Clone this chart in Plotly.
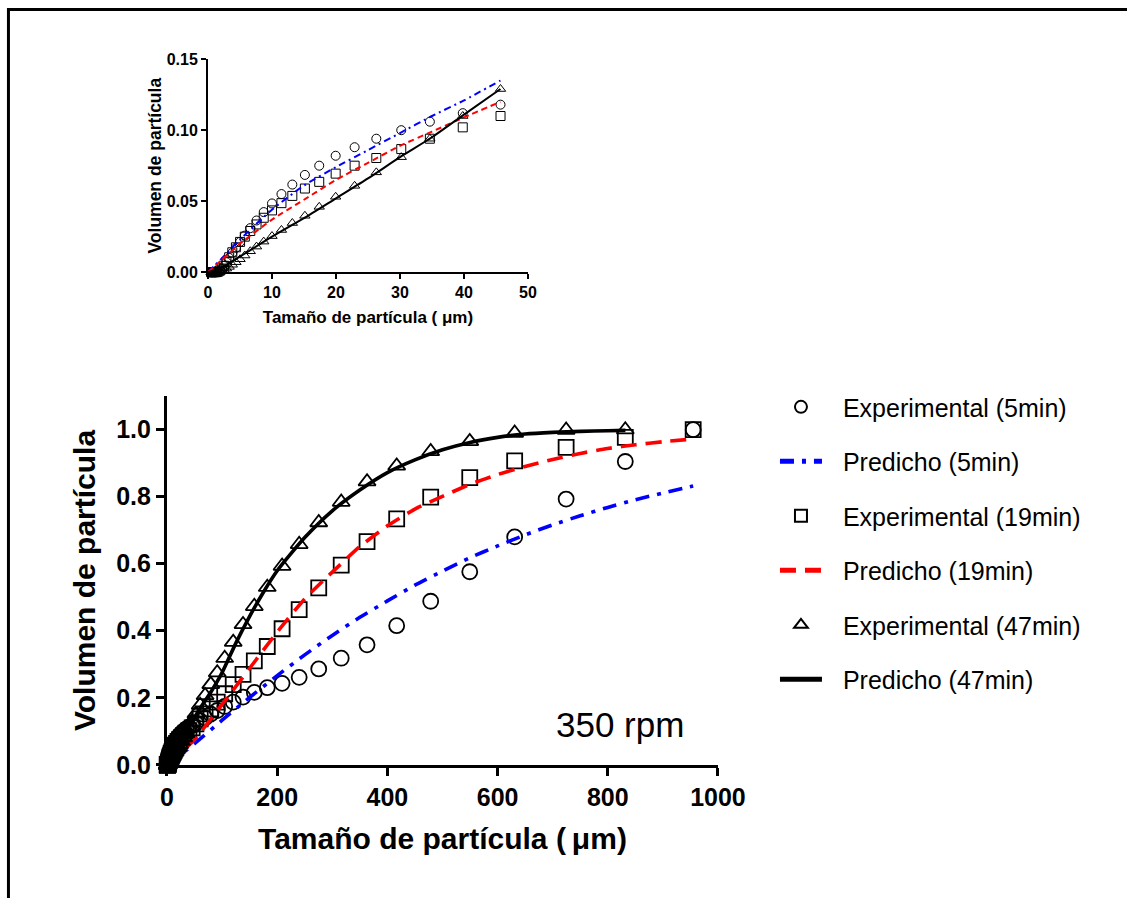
import plotly.graph_objects as go

# ---------------- data ----------------
sizes = [0.479, 0.550, 0.631, 0.724, 0.832, 0.955, 1.096, 1.259, 1.445, 1.660,
         1.905, 2.188, 2.512, 2.884, 3.311, 3.802, 4.365, 5.012, 5.754, 6.607,
         7.586, 8.710, 10.00, 11.48, 13.18, 15.14, 17.38, 19.95, 22.91, 26.30,
         30.20, 34.67, 39.81, 45.71, 52.48, 60.26, 69.18, 79.43, 91.20, 104.7,
         120.2, 138.0, 158.5, 182.0, 208.9, 239.9, 275.4, 316.2, 363.1, 416.9,
         478.6, 549.5, 631.0, 724.4, 831.8, 955.0]

exp_5 = [0, 0, 0, 0, 0, 0, 0, 0, 0.0002, 0.0005,
         0.0012, 0.0025, 0.0045, 0.0070, 0.0100, 0.0135, 0.0172, 0.0213, 0.0257, 0.0310,
         0.0364, 0.0423, 0.0484, 0.0550, 0.0617, 0.0685, 0.0750, 0.0820, 0.0880, 0.0940,
         0.1000, 0.1060, 0.1120, 0.1180, 0.1240, 0.1310, 0.1400, 0.1510, 0.1620, 0.1740,
         0.1870, 0.2020, 0.2160, 0.2300, 0.2430, 0.2610, 0.2860, 0.3180, 0.3580, 0.4150,
         0.4880, 0.5760, 0.6800, 0.7930, 0.9050, 1.0000]

exp_19 = [0, 0, 0, 0, 0, 0, 0, 0, 0.0002, 0.0005,
          0.0012, 0.0025, 0.0045, 0.0072, 0.0105, 0.0140, 0.0175, 0.0213, 0.0250, 0.0290,
          0.0336, 0.0383, 0.0435, 0.0486, 0.0537, 0.0589, 0.0636, 0.0694, 0.0750, 0.0804,
          0.0867, 0.0940, 0.1020, 0.1100, 0.1220, 0.1370, 0.1520, 0.1670, 0.1870, 0.2120,
          0.2390, 0.2700, 0.3100, 0.3530, 0.4060, 0.4630, 0.5280, 0.5960, 0.6660, 0.7340,
          0.7990, 0.8570, 0.9070, 0.9470, 0.9770, 1.0000]

exp_47 = [0, 0, 0, 0, 0, 0, 0, 0, 0, 0.0001,
          0.0003, 0.0008, 0.0015, 0.0025, 0.0037, 0.0052, 0.0070, 0.0091, 0.0117, 0.0147,
          0.0180, 0.0215, 0.0254, 0.0297, 0.0346, 0.0397, 0.0460, 0.0531, 0.0608, 0.0703,
          0.0810, 0.0940, 0.1100, 0.1290, 0.1520, 0.1780, 0.2070, 0.2400, 0.2750, 0.3180,
          0.3660, 0.4190, 0.4730, 0.5300, 0.5930, 0.6580, 0.7230, 0.7840, 0.8450, 0.8920,
          0.9350, 0.9650, 0.9900, 0.9990, 1.0000]

# predicted curves, main chart
pred_x_main = [0, 25, 50, 100, 150, 200, 250, 300, 350, 400, 450, 500,
               550, 600, 650, 700, 750, 800, 850, 900, 955]
pred_5_main = [0, 0.030, 0.063, 0.133, 0.201, 0.266, 0.328, 0.386, 0.440, 0.489, 0.536, 0.578,
               0.618, 0.653, 0.686, 0.716, 0.743, 0.768, 0.791, 0.811, 0.832]
pred_19_main = [0, 0.035, 0.075, 0.180, 0.288, 0.396, 0.495, 0.575, 0.651, 0.713, 0.763, 0.801,
                0.837, 0.866, 0.890, 0.911, 0.929, 0.944, 0.955, 0.964, 0.972]
pred_47_x = [0, 10, 20, 30, 46, 60, 80, 100, 125, 150, 175, 200, 250, 300, 350, 400,
             450, 500, 550, 600, 650, 700, 750, 800, 832]
pred_47_main = [0, 0.025, 0.052, 0.082, 0.130, 0.168, 0.218, 0.275, 0.363, 0.443, 0.515, 0.579,
                0.678, 0.758, 0.820, 0.872, 0.910, 0.940, 0.962, 0.977, 0.987, 0.992, 0.995,
                0.997, 0.998]

# predicted curves, inset
pred_x_inset = [0, 2, 5, 10, 15, 20, 25, 30, 35, 40, 45.7]
pred_5_inset = [0, 0.009, 0.023, 0.044, 0.061, 0.074, 0.086, 0.098, 0.110, 0.121, 0.135]
pred_19_inset = [0, 0.008, 0.020, 0.037, 0.051, 0.065, 0.077, 0.089, 0.099, 0.109, 0.120]
pred_47_inset = [0, 0.003, 0.011, 0.025, 0.038, 0.052, 0.066, 0.081, 0.095, 0.111, 0.129]

legend_names = ["Experimental (5min)", "Predicho (5min)", "Experimental (19min)",
                "Predicho (19min)", "Experimental (47min)", "Predicho (47min)"]

inset_max_size = 46

# ---------------- figure ----------------
W, H = 1165, 925
FONT = "Liberation Sans, Arial, sans-serif"
BLUE, RED, BLACK = "#0000ff", "#ff0000", "#000000"
PAD = "\u00a0\u00a0\u200a"

fig = go.Figure()

def add_exp(x, y, symbol, name, size, lw, xa, ya, show):
    fig.add_trace(go.Scatter(
        x=x, y=y, mode="markers", name=PAD + name, showlegend=show,
        legendgroup=name,
        marker=dict(symbol=symbol, size=size, color=BLACK,
                    line=dict(color=BLACK, width=lw)),
        cliponaxis=False, xaxis=xa, yaxis=ya))

def add_pred(x, y, color, dash, name, width, xa, ya, show):
    fig.add_trace(go.Scatter(
        x=x, y=y, mode="lines", name=PAD + name, showlegend=show,
        legendgroup=name,
        line=dict(color=color, width=width, dash=dash, shape="spline", smoothing=0.6),
        cliponaxis=False, xaxis=xa, yaxis=ya))

# main chart (legend order)
add_exp(sizes, exp_5, "circle-open", legend_names[0], 15, 1.8, "x", "y", True)
add_pred(pred_x_main, pred_5_main, BLUE, "14px,8px,4px,8px", legend_names[1], 3.6, "x", "y", True)
add_exp(sizes, exp_19, "square-open", legend_names[2], 15, 1.8, "x", "y", True)
add_pred(pred_x_main, pred_19_main, RED, "16px,9px", legend_names[3], 3.6, "x", "y", True)
add_exp(sizes[:len(exp_47)], exp_47, "triangle-up-open", legend_names[4], 15, 1.8, "x", "y", True)
add_pred(pred_47_x, pred_47_main, BLACK, "solid", legend_names[5], 3.6, "x", "y", True)

# inset
def sel(xs, ys):
    pts = [(a, b) for a, b in zip(xs, ys) if a <= inset_max_size]
    return [p[0] for p in pts], [p[1] for p in pts]

xi, yi = sel(sizes, exp_5)
add_exp(xi, yi, "circle-open", "i5", 9, 1, "x2", "y2", False)
xi, yi = sel(sizes, exp_19)
add_exp(xi, yi, "square-open", "i19", 9, 1, "x2", "y2", False)
xi, yi = sel(sizes[:len(exp_47)], exp_47)
add_exp(xi, yi, "triangle-up-open", "i47", 9, 1, "x2", "y2", False)
add_pred(pred_x_inset, pred_5_inset, BLUE, "7px,4px,2px,4px", "ip5", 2, "x2", "y2", False)
add_pred(pred_x_inset, pred_19_inset, RED, "6px,4px", "ip19", 2, "x2", "y2", False)
add_pred(pred_x_inset, pred_47_inset, BLACK, "solid", "ip47", 2, "x2", "y2", False)

# target picture pixel -> page pixel -> paper fraction
SX, AX, SY, AY = 0.970, 6.0, 0.972, 9.5

def px_x(r):
    return ((r - AX) / SX) / W

def px_y(r):
    return 1 - ((r - AY) / SY) / H

main_ax = dict(showline=True, linewidth=3, linecolor=BLACK, ticks="outside",
               ticklen=8, tickwidth=3, tickcolor=BLACK, showgrid=False, zeroline=False,
               tickfont=dict(family=FONT, size=25, color=BLACK, weight="bold"))
inset_ax = dict(showline=True, linewidth=2, linecolor=BLACK, ticks="outside",
                ticklen=5, tickwidth=2, tickcolor=BLACK, showgrid=False, zeroline=False,
                tickfont=dict(family=FONT, size=16, color=BLACK, weight="bold"))

fig.update_layout(
    width=W, height=H,
    margin=dict(l=0, r=0, t=0, b=0),
    paper_bgcolor="white", plot_bgcolor="rgba(0,0,0,0)",
    font=dict(family=FONT, color=BLACK),
    xaxis=dict(**main_ax, domain=[px_x(166), px_x(717)], range=[0, 1000],
               tickvals=[0, 200, 400, 600, 800, 1000], anchor="y",
               title=dict(text="Tamaño de partícula (\u2009μm)", standoff=19,
                          font=dict(family=FONT, size=30, color=BLACK, weight="bold"))),
    yaxis=dict(**main_ax, domain=[px_y(763), px_y(396)], range=[0, 1.1],
               tickvals=[0, 0.2, 0.4, 0.6, 0.8, 1.0], tickformat=".1f", anchor="x",
               title=dict(text="Volumen de partícula", standoff=12,
                          font=dict(family=FONT, size=30, color=BLACK, weight="bold"))),
    xaxis2=dict(**inset_ax, domain=[px_x(207), px_x(527)], range=[0, 50],
                tickvals=[0, 10, 20, 30, 40, 50], anchor="y2",
                title=dict(text="Tamaño de partícula ( μm)", standoff=11,
                           font=dict(family=FONT, size=17, color=BLACK, weight="bold"))),
    yaxis2=dict(**inset_ax, domain=[px_y(272.5), px_y(60.5)], range=[0, 0.15],
                tickvals=[0, 0.05, 0.10, 0.15], tickformat=".2f", anchor="x2",
                title=dict(text="Volumen de partícula", standoff=1,
                           font=dict(family=FONT, size=17.5, color=BLACK, weight="bold"))),
    legend=dict(x=px_x(774), y=px_y(384), xanchor="left", yanchor="top",
                traceorder="grouped", tracegroupgap=19, itemsizing="constant",
                itemwidth=42,
                font=dict(family=FONT, size=25, color=BLACK),
                bgcolor="rgba(0,0,0,0)"),
    annotations=[dict(text="350 rpm", x=px_x(619), y=px_y(723), xref="paper", yref="paper",
                      showarrow=False, xanchor="center", yanchor="middle",
                      font=dict(family=FONT, size=35, color=BLACK))],
    shapes=[
        dict(type="line", xref="paper", yref="paper", x0=0, x1=1, y0=1 - 1.5 / H, y1=1 - 1.5 / H,
             line=dict(color=BLACK, width=3)),
        dict(type="line", xref="paper", yref="paper", x0=1.5 / W, x1=1.5 / W, y0=0, y1=1,
             line=dict(color=BLACK, width=3)),
    ],
)

fig.write_html("out.html", config={"displayModeBar": False},
               post_script="document.body.style.margin='0';document.body.style.overflow='hidden';")
